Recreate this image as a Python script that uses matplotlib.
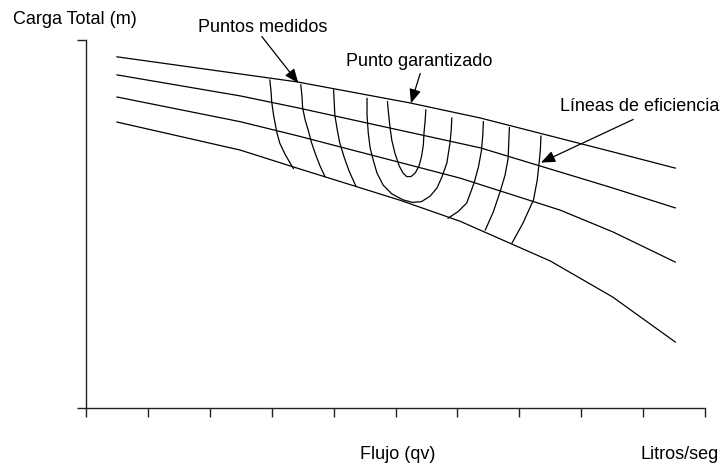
import matplotlib
matplotlib.use('Agg')
import matplotlib.pyplot as plt

plt.rcParams['font.family'] = ['Liberation Sans', 'DejaVu Sans']

# Head curves (Carga vs Flujo), axis units: x ticks 0..10, y 0..10
c1_x = [0.50, 3.41, 5.23, 6.37, 8.51, 9.52]
c1_y = [9.53, 8.85, 8.28, 7.87, 6.95, 6.51]
c2_x = [0.50, 2.49, 3.41, 6.37, 8.51, 9.52]
c2_y = [9.04, 8.47, 8.15, 7.06, 5.97, 5.43]
c3_x = [0.50, 2.49, 3.41, 6.04, 7.66, 8.51, 9.52]
c3_y = [8.44, 7.77, 7.39, 6.24, 5.37, 4.78, 3.96]
c4_x = [0.50, 2.49, 3.41, 5.07, 6.04, 7.50, 8.51, 9.52]
c4_y = [7.76, 7.00, 6.51, 5.64, 5.07, 3.99, 3.01, 1.79]

# Efficiency lines
l1_x = [2.97, 2.99, 3.00, 3.03, 3.08, 3.13, 3.22, 3.35]
l1_y = [8.90, 8.58, 8.31, 7.95, 7.50, 7.19, 6.87, 6.50]
l2_x = [3.47, 3.49, 3.50, 3.54, 3.59, 3.64, 3.70, 3.78, 3.86]
l2_y = [8.77, 8.44, 8.14, 7.82, 7.54, 7.22, 6.92, 6.57, 6.28]
l3_x = [4.00, 4.01, 4.02, 4.06, 4.10, 4.17, 4.25, 4.36]
l3_y = [8.63, 8.30, 7.95, 7.54, 7.19, 6.81, 6.43, 6.02]
u_out_x = [4.54, 4.54, 4.56, 4.59, 4.64, 4.70, 4.80, 4.94, 5.12, 5.27, 5.42,
           5.56, 5.67, 5.75, 5.83, 5.88, 5.90, 5.91]
u_out_y = [8.40, 7.95, 7.46, 7.06, 6.73, 6.38, 6.05, 5.81, 5.65, 5.58, 5.60,
           5.75, 5.97, 6.27, 6.65, 7.19, 7.54, 7.87]
u_in_x = [4.87, 4.89, 4.91, 4.94, 4.99, 5.06, 5.12, 5.18, 5.25, 5.32, 5.38,
          5.42, 5.45, 5.46, 5.48, 5.49]
u_in_y = [8.31, 7.95, 7.63, 7.27, 6.92, 6.57, 6.38, 6.28, 6.28, 6.38, 6.57,
          6.82, 7.14, 7.46, 7.82, 8.09]
r1_x = [6.42, 6.41, 6.39, 6.34, 6.27, 6.15, 6.01, 5.85]
r1_y = [7.77, 7.41, 7.00, 6.54, 6.11, 5.56, 5.33, 5.15]
r2_x = [6.84, 6.83, 6.82, 6.77, 6.69, 6.58, 6.45]
r2_y = [7.61, 7.22, 6.78, 6.32, 5.87, 5.32, 4.83]
r3_x = [7.35, 7.34, 7.32, 7.29, 7.23, 7.06, 6.88]
r3_y = [7.38, 7.00, 6.65, 6.19, 5.65, 5.02, 4.47]

fig = plt.figure(figsize=(7.21, 4.68), dpi=100)
ax = fig.add_axes([86/721, 1 - 408/468, (705 - 86)/721, (408 - 39.5)/468])

for xs, ys in [(c1_x, c1_y), (c2_x, c2_y), (c3_x, c3_y), (c4_x, c4_y),
               (l1_x, l1_y), (l2_x, l2_y), (l3_x, l3_y),
               (u_out_x, u_out_y), (u_in_x, u_in_y),
               (r1_x, r1_y), (r2_x, r2_y), (r3_x, r3_y)]:
    ax.plot(xs, ys, color='black', lw=0.9)

ax.set_xlim(0, 10)
ax.set_ylim(0, 10)
ax.spines['top'].set_visible(False)
ax.spines['right'].set_visible(False)
for s in ['left', 'bottom']:
    ax.spines[s].set_linewidth(1.0)
    ax.spines[s].set_color('#222222')
ax.set_xticks(range(11))
ax.set_yticks([0, 10])
ax.tick_params(axis='x', direction='out', length=6.5, width=1.0, color='#222222', labelbottom=False)
ax.tick_params(axis='y', direction='out', length=6.8, width=1.0, color='#222222', labelleft=False)

arrow = dict(arrowstyle='-|>,head_length=0.85,head_width=0.35', color='black',
             lw=0.9, shrinkA=0, shrinkB=0, mutation_scale=10)
ax.annotate('', xy=(3.43, 8.82), xytext=(2.84, 10.08), arrowprops=arrow, annotation_clip=False)
ax.annotate('', xy=(5.25, 8.27), xytext=(5.40, 9.08), arrowprops=arrow, annotation_clip=False)
ax.annotate('', xy=(7.35, 6.66), xytext=(8.84, 7.83), arrowprops=arrow, annotation_clip=False)

fs = 13
fig.text(13/721, 1 - 24/468, 'Carga Total (m)', fontsize=fs, va='baseline')
fig.text(198/721, 1 - 32/468, 'Puntos medidos', fontsize=fs, va='baseline')
fig.text(346/721, 1 - 66/468, 'Punto garantizado', fontsize=fs, va='baseline')
fig.text(560/721, 1 - 111/468, 'Líneas de eficiencia', fontsize=fs, va='baseline')
fig.text(398/721, 1 - 459/468, 'Flujo (qv)', fontsize=fs, va='baseline', ha='center')
fig.text(719/721, 1 - 459/468, 'Litros/seg', fontsize=fs, va='baseline', ha='right')

fig.savefig('out.png', dpi=100)
